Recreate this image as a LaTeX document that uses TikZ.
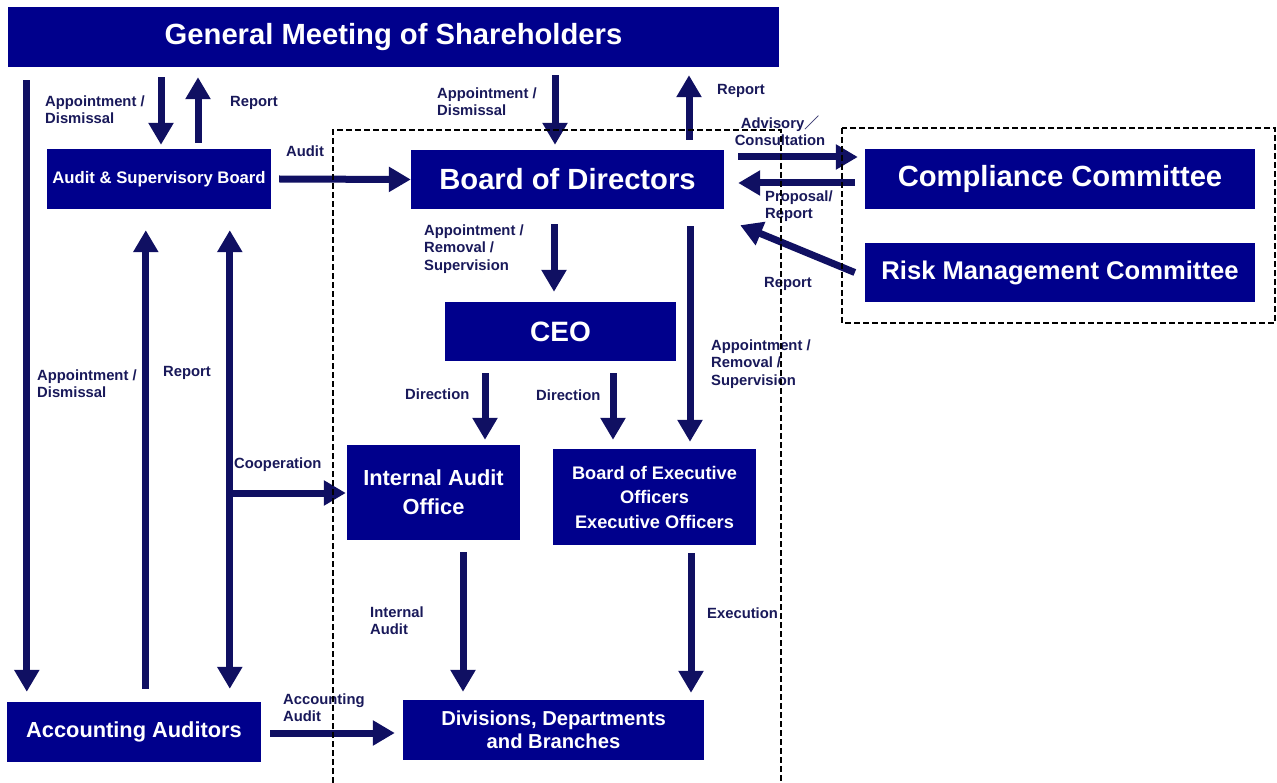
\documentclass[tikz,border=0pt]{standalone}
\usepackage{fontspec}
\setmainfont{Liberation Sans}
\newfontfamily\cjk{Noto Sans CJK JP}
\usetikzlibrary{arrows.meta,calc}
\definecolor{boxcol}{RGB}{0,0,140}
\definecolor{arrcol}{RGB}{16,16,98}
\definecolor{labcol}{RGB}{25,25,90}
\begin{document}
\begin{tikzpicture}[x=1pt,y=-1pt,
 box/.style={fill=boxcol, text=white, inner sep=0pt, align=center},
 arr/.style={draw=arrcol, line width=7pt, -{Triangle[width=24pt,length=22pt]}},
 darr/.style={draw=arrcol, line width=7pt, {Triangle[width=24pt,length=22pt]}-{Triangle[width=24pt,length=22pt]}},
 lab/.style={text=labcol, font=\fontsize{14.8}{17}\selectfont\bfseries, inner sep=0pt, align=left, anchor=west},
 dbox/.style={draw=black, line width=1.4pt, dash pattern=on 6pt off 3pt}]
\useasboundingbox (0,0) rectangle (1277,783);
\fill[white] (0,0) rectangle (1277,783);

% boxes
\node[box, minimum width=771pt, minimum height=60pt, font=\fontsize{29.2}{33}\selectfont\bfseries] (gms) at (393.5,37) {General Meeting of Shareholders};
\node[box, minimum width=224pt, minimum height=60pt, font=\fontsize{16.7}{19}\selectfont\bfseries] (asb) at (159,179) {Audit \& Supervisory Board};
\node[box, minimum width=313pt, minimum height=59pt, font=\fontsize{29.2}{33}\selectfont\bfseries] (bod) at (567.5,179.5) {Board of Directors};
\node[box, minimum width=390pt, minimum height=60pt, font=\fontsize{29.2}{33}\selectfont\bfseries] (cc) at (1060,179) {Compliance Committee};
\node[box, minimum width=390pt, minimum height=59pt, font=\fontsize{25.6}{29}\selectfont\bfseries] (rmc) at (1060,272.5) {Risk Management Committee};
\node[box, minimum width=231pt, minimum height=59pt, font=\fontsize{28}{32}\selectfont\bfseries] (ceo) at (560.5,331.5) {CEO};
\node[box, minimum width=173pt, minimum height=95pt, font=\fontsize{21.8}{29}\selectfont\bfseries] (iao) at (433.5,492.5) {Internal Audit\\Office};
\node[box, minimum width=203pt, minimum height=96pt, font=\fontsize{18.2}{24.5}\selectfont\bfseries] (boeo) at (654.5,497) {Board of Executive\\Officers\\Executive Officers};
\node[box, minimum width=254pt, minimum height=60pt, font=\fontsize{21.8}{25}\selectfont\bfseries] (aa) at (134,732) {Accounting Auditors};
\node[box, minimum width=301pt, minimum height=60pt, font=\fontsize{20.2}{23.5}\selectfont\bfseries] (div) at (553.5,730) {Divisions, Departments\\and Branches};

% arrows
\draw[arr] ($(gms.south -| aa.west)+(20,13)$) -- ($(aa.north west)+(20,-10)$);
\draw[arr] ($(gms.south -| asb.north)+(2,10)$) -- ($(asb.north)+(2,-4)$);
\draw[arr] ($(asb.north)+(39,-6)$) -- ($(gms.south -| asb.north)+(39,10)$);
\draw[arr] ($(asb.east)+(8,0)$) -- (bod.west);
\draw[arr] ($(gms.south -| bod.north)+(-12.5,8)$) -- ($(bod.north)+(-12.5,-5)$);
\draw[arr] ($(bod.north)+(121.5,-10)$) -- ($(gms.south -| bod.north)+(121.5,8)$);
\draw[arr] ($(bod.east)+(14,-22.5)$) -- ($(cc.west)+(-7,-22)$);
\draw[arr] ($(cc.west)+(-10,4)$) -- ($(bod.east)+(14,3.5)$);
\draw[arr] ($(rmc.west)+(-10,0)$) -- ($(bod.south east)+(16,16)$);
\draw[arr] ($(bod.south)+(-13.5,15)$) -- ($(ceo.north)+(-6.5,-10)$);
\draw[arr] ($(bod.south)+(122.5,17)$) -- ($(boeo.north)+(35.5,-7)$);
\draw[arr] ($(ceo.south)+(-75.5,12)$) -- ($(iao.north)+(51.5,-5)$);
\draw[arr] ($(ceo.south)+(52.5,12)$) -- ($(boeo.north)+(-41.5,-9)$);
\draw[arr] ($(iao.south)+(29.5,12)$) -- ($(div.north)+(-90.5,-8)$);
\draw[arr] ($(boeo.south)+(36.5,8)$) -- ($(div.north)+(137.5,-7)$);
\draw[arr] ($(aa.east)+(9,1)$) -- ($(div.west)+(-8,3)$);
\draw[arr] ($(aa.north west)+(139,-13)$) -- ($(asb.south west)+(99,21)$);
\draw[darr] ($(asb.south west)+(183,21)$) -- ($(aa.north west)+(223,-13)$);
\coordinate (coop) at ($(iao.west -| aa.north west)+(220,0.5)$);
\draw[arr] (coop) -- ($(iao.west)+(-1,0.5)$);

% labels
\node[lab] (l1) at (45,110) {Appointment /\\Dismissal};
\node[lab] (l2) at (230,103) {Report};
\node[lab] (l3) at (286,151) {Audit};
\node[lab] (l4) at (437,102) {Appointment /\\Dismissal};
\node[lab] (l5) at (717,91) {Report};
\node[lab, align=center, anchor=center] (l6) at (780,131) {Advisory{\cjk ／}\\Consultation};
\node[lab] (l7) at (765,206) {Proposal/\\Report};
\node[lab] (l8) at (764,284) {Report};
\node[lab, font=\fontsize{14.8}{17.5}\selectfont\bfseries] (l9) at (424,249) {Appointment /\\Removal /\\Supervision};
\node[lab, font=\fontsize{14.8}{17.5}\selectfont\bfseries] (l10) at (711,364) {Appointment /\\Removal /\\Supervision};
\node[lab] (l11) at (405,394) {Direction};
\node[lab] (l12) at (536,395) {Direction};
\node[lab] (l13) at (370,621) {Internal\\Audit};
\node[lab] (l14) at (707,613) {Execution};
\node[lab] (l15) at (283,708) {Accounting\\Audit};
\node[lab] (l16) at (163,373) {Report};
\node[lab] (l17) at (37,384) {Appointment /\\Dismissal};
\node[lab] (l18) at (234,465) {Cooperation};

% dashed groups
\draw[dbox] (333,783) -- (333,130) -- (781,130) -- (781,783);
\draw[dbox] (842,128) rectangle (1275,323);
\end{tikzpicture}
\end{document}
